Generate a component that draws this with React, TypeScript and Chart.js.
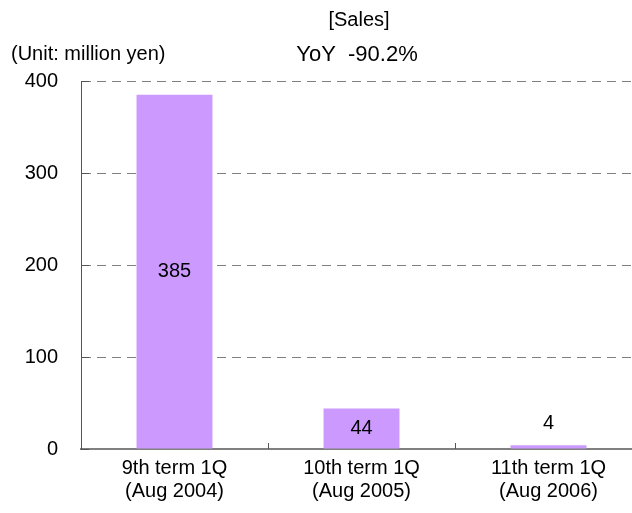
import React, { useEffect, useRef } from "react";
import { Chart, registerables } from "chart.js";

Chart.register(...registerables);

const categories: string[][] = [
  ["9th term 1Q", "(Aug 2004)"],
  ["10th term 1Q", "(Aug 2005)"],
  ["11th term 1Q", "(Aug 2006)"],
];
const salesValues: number[] = [385, 44, 4];
const yTicks: number[] = [0, 100, 200, 300, 400];

const chartTitle = "[Sales]";
const yoyText = "YoY  -90.2%";
const unitText = "(Unit: million yen)";

const FONT_FAMILY = "'Liberation Sans', Arial, sans-serif";
const BAR_COLOR = "#CC99FF";

const overlayPlugin = {
  id: "salesOverlay",
  afterDraw(chart: any) {
    const { ctx, chartArea, scales } = chart;
    const yScale = scales.y;
    ctx.save();

    // headings
    ctx.fillStyle = "#000";
    ctx.textBaseline = "middle";
    ctx.textAlign = "center";
    ctx.font = `20px ${FONT_FAMILY}`;
    ctx.fillText(chartTitle, 359, 20);
    ctx.font = `22px ${FONT_FAMILY}`;
    ctx.fillText(yoyText, 357, 55);
    ctx.textAlign = "left";
    ctx.font = `20px ${FONT_FAMILY}`;
    ctx.fillText(unitText, 11, 54);

    // inner tick marks on the value axis
    ctx.strokeStyle = "#555";
    ctx.lineWidth = 1;
    yTicks.forEach((v) => {
      const py = Math.round(yScale.getPixelForValue(v)) + 0.5;
      ctx.beginPath();
      ctx.moveTo(chartArea.left, py);
      ctx.lineTo(chartArea.left + 8, py);
      ctx.stroke();
    });

    // inner tick marks between categories
    const catWidth = (chartArea.right - chartArea.left) / categories.length;
    for (let i = 1; i < categories.length; i++) {
      const px = Math.round(chartArea.left + i * catWidth) + 0.5;
      ctx.beginPath();
      ctx.moveTo(px, chartArea.bottom);
      ctx.lineTo(px, chartArea.bottom - 6);
      ctx.stroke();
    }

    // value labels
    const meta = chart.getDatasetMeta(0);
    ctx.fillStyle = "#000";
    ctx.font = `20px ${FONT_FAMILY}`;
    ctx.textAlign = "center";
    ctx.textBaseline = "middle";
    meta.data.forEach((bar: any, i: number) => {
      const v = salesValues[i];
      const h = bar.base - bar.y;
      const ly = h > 30 ? (bar.y + bar.base) / 2 : bar.y - 22;
      ctx.fillText(String(v), bar.x, ly);
    });

    ctx.restore();
  },
};

export default function App() {
  const canvasRef = useRef<HTMLCanvasElement | null>(null);

  useEffect(() => {
    document.documentElement.style.overflow = "hidden";
    document.body.style.overflow = "hidden";
    const canvas = canvasRef.current;
    if (!canvas) return;
    const chart = new Chart(canvas, {
      type: "bar",
      data: {
        labels: categories,
        datasets: [
          {
            data: salesValues,
            backgroundColor: BAR_COLOR,
            borderWidth: 0,
            barPercentage: 0.406,
            categoryPercentage: 1,
          },
        ],
      },
      options: {
        animation: false,
        responsive: false,
        devicePixelRatio: 1,
        layout: { padding: { top: 81, right: 18, left: 0, bottom: 0 } },
        plugins: {
          legend: { display: false },
          tooltip: { enabled: false },
          title: { display: false },
        },
        scales: {
          x: {
            grid: { display: false, drawTicks: false },
            border: { display: true, color: "#808080", width: 2 },
            ticks: {
              color: "#000",
              padding: 8,
              font: { family: FONT_FAMILY, size: 20, lineHeight: 1.15 },
              maxRotation: 0,
              autoSkip: false,
            },
            afterFit(scale: any) {
              scale.height = 64;
            },
          },
          y: {
            min: 0,
            max: 400,
            afterBuildTicks(scale: any) {
              scale.ticks = yTicks.map((v) => ({ value: v }));
            },
            grid: { color: "#808080", lineWidth: 1, drawTicks: false },
            border: { display: true, color: "#555", width: 1, dash: [9, 6] },
            ticks: {
              color: "#000",
              padding: 23,
              font: { family: FONT_FAMILY, size: 20 },
            },
            afterFit(scale: any) {
              scale.width = 81;
            },
          },
        },
      },
      plugins: [overlayPlugin],
    });
    return () => chart.destroy();
  }, []);

  return (
    <div style={{ position: "absolute", left: 0, top: 0, width: 660, height: 513 }}>
      <canvas ref={canvasRef} width={660} height={513} style={{ width: 660, height: 513 }} />
    </div>
  );
}
